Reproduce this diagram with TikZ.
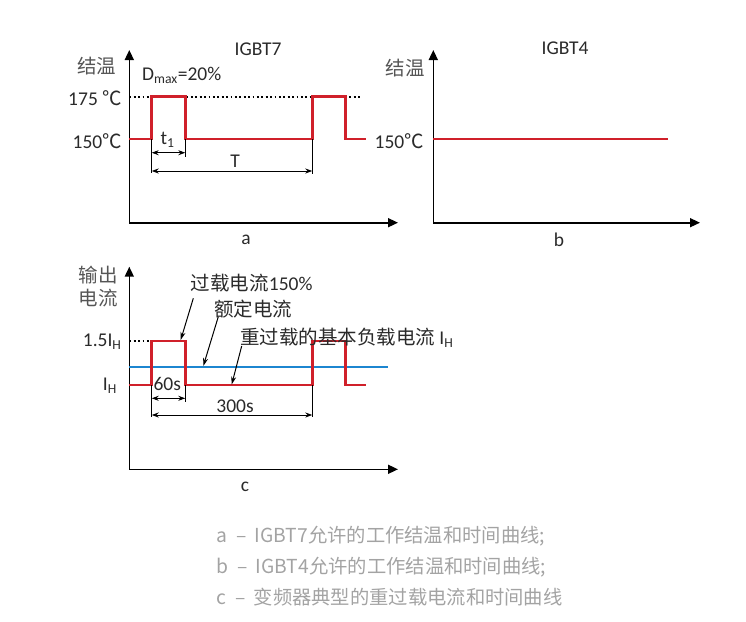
\documentclass[tikz,border=0pt]{standalone}
\usepackage{fontspec}
\setmainfont{Carlito}
\newfontfamily\cjk{Noto Sans CJK SC}
\usetikzlibrary{arrows.meta, positioning}

\definecolor{pulsered}{HTML}{D0202A}
\definecolor{ratedblue}{HTML}{1C86D0}
\definecolor{inkgray}{HTML}{2A2A2A}
\definecolor{axisgray}{HTML}{555555}
\definecolor{capgray}{HTML}{A3A3A3}

\begin{document}
\begin{tikzpicture}[
    x=1pt, y=-1pt,
    txt/.style={font=\fontsize{19.5}{23}\selectfont, text=inkgray, inner sep=0pt},
    ylabel/.style={txt, text=axisgray, align=center},
    caption/.style={font=\cjk\fontsize{19.3}{22}\selectfont, text=capgray, inner sep=0pt, anchor=west},
    axes/.style={{Triangle[length=10pt,width=9pt]}-{Triangle[length=10pt,width=9pt]}, line width=1.6pt},
    pulse/.style={draw=pulsered, line width=2.6pt},
    rated/.style={draw=ratedblue, line width=2.4pt},
    limit/.style={line width=1.8pt, dash pattern=on 1.8pt off 2.6pt},
    ext/.style={line width=1pt},
    dim/.style={{Stealth[length=7pt,width=5pt]}-{Stealth[length=7pt,width=5pt]}, line width=1pt},
    pointer/.style={-{Stealth[length=8pt,width=5pt]}, line width=1pt}
]
\useasboundingbox (0,0) rectangle (746,621);

% ---- a: IGBT7
\draw[axes] (129.3,50) -- (129.3,222.7) -- (398,222.7);
\draw[limit] (129.3,96.7) -- (361.7,96.7);
\draw[pulse] (129.3,139) -- (151.7,139) -- (151.7,96.7) -- (185.3,96.7) -- (185.3,139)
  -- (312.3,139) -- (312.3,96.7) -- (345.7,96.7) -- (345.7,139) -- (365.7,139);
\draw[ext] (151.7,139) -- (151.7,172.5);
\draw[ext] (185.3,139) -- (185.3,157);
\draw[ext] (312.3,139) -- (312.3,173.5);
\coordinate (t1l) at (151.7,152.7);
\coordinate (t1r) at (185.3,152.7);
\coordinate (Tl) at (151.7,171);
\coordinate (Tr) at (312.3,171);
\draw[dim] (t1l) -- (t1r);
\draw[dim] (Tl) -- (Tr);

\node[txt] (titlea) at (258,49) {IGBT7};
\node[ylabel] (tja) at (96.7,66) {\cjk 结温};
\node[txt] (duty) at (181.7,75) {D\textsubscript{max}=20\%};
\node[txt, anchor=east] (hot) at (122,98) {175 {\cjk ℃}};
\node[txt, anchor=east] (nominala) at (122,141) {150{\cjk ℃}};
\node[txt] (tone) at (167.5,140) {t\textsubscript{1}};
\node[txt] (period) at (235,161) {T};
\node[txt] (laba) at (246,240) {a};

% ---- b: IGBT4
\draw[axes] (433.3,50) -- (433.3,222.7) -- (700,222.7);
\draw[pulse] (433.3,139) -- (668,139);
\node[txt] (titleb) at (565,48) {IGBT4};
\node[ylabel] (tjb) at (405,68) {\cjk 结温};
\node[txt, anchor=east] (nominalb) at (424,141) {150{\cjk ℃}};
\node[txt] (labb) at (559,240) {b};

% ---- c: overload current
\draw[axes] (129.3,266.7) -- (129.3,469.3) -- (398,469.3);
\draw[limit] (129.3,341) -- (151.7,341);
\draw[rated] (129.3,367) -- (388.3,367);
\draw[pulse] (129.3,385) -- (151.7,385) -- (151.7,341) -- (185.3,341) -- (185.3,385)
  -- (312.3,385) -- (312.3,341) -- (345.7,341) -- (345.7,385) -- (365.7,385);
\draw[ext] (151.7,385) -- (151.7,416.7);
\draw[ext] (185.3,385) -- (185.3,402);
\draw[ext] (312.3,385) -- (312.3,416.7);
\coordinate (s60l) at (151.7,398.3);
\coordinate (s60r) at (185.3,398.3);
\coordinate (s300l) at (151.7,415);
\coordinate (s300r) at (312.3,415);
\draw[dim] (s60l) -- (s60r);
\draw[dim] (s300l) -- (s300r);

\node[ylabel] (iout) at (98.3,287) {\cjk 输出\\\cjk 电流};
\node[txt, anchor=east] (ioverload) at (121.7,342) {1.5I\textsubscript{H}};
\node[txt, anchor=east] (ibase) at (117,386) {I\textsubscript{H}};
\node[txt] (over) at (251.7,283) {{\cjk 过载电流}150\%};
\node[txt] (ratedtxt) at (253.3,309) {\cjk 额定电流};
\node[txt] (basetxt) at (346.7,338) {{\cjk 重过载的基本负载电流} I\textsubscript{H}};
\node[txt] (sixty) at (167.3,384) {60s};
\node[txt] (threehundred) at (235,406.5) {300s};
\node[txt] (labc) at (245,486.7) {c};

\coordinate (overtail) at (193.3,298.3);
\coordinate (overtip) at (180.7,340);
\coordinate (ratedtail) at (218.3,316.7);
\coordinate (ratedtip) at (203.3,366);
\coordinate (basetail) at (241.7,346);
\coordinate (basetip) at (231.7,384.5);
\draw[pointer] (overtail) -- (overtip);
\draw[pointer] (ratedtail) -- (ratedtip);
\draw[pointer] (basetail) -- (basetip);

% ---- captions
\node[caption] (capa) at (216.7,536) {a\hspace{4pt} – \hspace{4pt}IGBT7允许的工作结温和时间曲线;};
\node[caption] (capb) at (216.7,566.7) {b\hspace{4pt} – \hspace{4pt}IGBT4允许的工作结温和时间曲线;};
\node[caption] (capc) at (216.7,596.7) {c\hspace{4pt} – \hspace{4pt}变频器典型的重过载电流和时间曲线};
\end{tikzpicture}
\end{document}
